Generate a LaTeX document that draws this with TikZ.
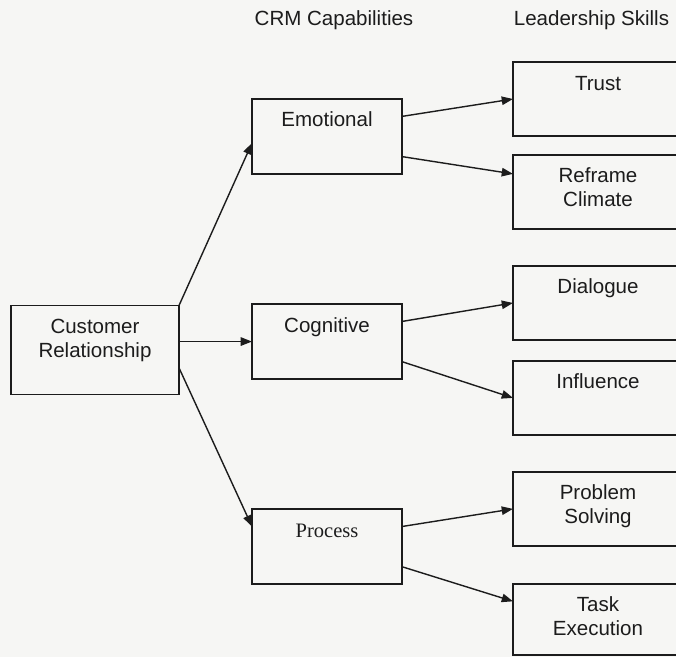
\documentclass[tikz,border=0pt]{standalone}
\usepackage{fontspec}
\setmainfont{Liberation Sans}
\newfontfamily\serifpart{Liberation Serif}
\definecolor{inkgray}{HTML}{1C1C1C}
\definecolor{paper}{HTML}{F6F6F4}
\usepackage{tikz}
\usetikzlibrary{arrows.meta, positioning, calc}
\newcommand{\boxfont}{\fontsize{14.6pt}{16.8pt}\selectfont}
\tikzset{
  basebox/.style={draw=inkgray, line width=1.2pt, inner xsep=0pt, inner ysep=0pt,
                  outer sep=0pt, align=center, font=\boxfont, text=inkgray,
                  text height=19.9pt},
  rootbox/.style={basebox, text width=4.2cm, text depth=43.4pt},
  capbox/.style={basebox, text width=3.75cm, text depth=33.45pt},
  skillbox/.style={basebox, text width=4.25cm, text depth=32.7pt},
  headtext/.style={font=\boxfont, text=inkgray},
  arr/.style={-{Triangle[length=8pt,width=6pt]}, line width=1pt, inkgray},
}

\begin{document}
\begin{tikzpicture}[x=0.025cm, y=-0.025cm, node distance=3.25cm]

  \fill[paper] (0,0) rectangle (676,657);
  \clip (0,0) rectangle (676,657);

  %% ── Column headings ──────────────────────────────────────────────────────

  \node[headtext] (caplabel) at (334,20) {CRM Capabilities};
  \node[headtext] (skilllabel) at (591.5,20) {Leadership Skills};

  %% ── Root (left) ──────────────────────────────────────────────────────────

  \node[rootbox] (crm) at (95,350) {Customer\\Relationship};

  %% ── CRM capabilities (middle column) ─────────────────────────────────────

  \node[capbox] (emo) at (327,136.5) {Emotional};
  \node[capbox, below=of emo] (cog) {Cognitive};
  % this one is set in a serif face
  \node[capbox, below=of cog, font=\boxfont\serifpart] (proc) {Process};

  %% ── Leadership skills (right column, runs off the edge) ──────────────────

  \node[skillbox] (trust) at (598,99) {Trust};
  \node[skillbox, below=0.475cm of trust] (reframe) {Reframe\\Climate};
  \node[skillbox, below=0.925cm of reframe] (dialog) {Dialogue};
  \node[skillbox, below=0.525cm of dialog] (infl) {Influence};
  \node[skillbox, below=0.925cm of infl] (probsolve) {Problem\\Solving};
  \node[skillbox, below=0.95cm of probsolve, text depth=30.6pt]
    (taskexec) {Task\\Execution};

  %% ── Connectors ───────────────────────────────────────────────────────────

  \draw[arr] (crm.north east) -- (emo.185);
  \draw[arr] (crm.east |- cog.west) -- (cog.west);
  \draw[arr] (crm.-12) -- (proc.165);

  \draw[arr] (emo.15) -- (trust.west);
  \draw[arr] (emo.-15) -- (reframe.168);
  \draw[arr] (cog.15) -- (dialog.west);
  \draw[arr] (cog.-15) -- (infl.west);
  \draw[arr] (proc.15) -- (probsolve.west);
  \draw[arr] (proc.-15) -- (taskexec.168);

\end{tikzpicture}
\end{document}
